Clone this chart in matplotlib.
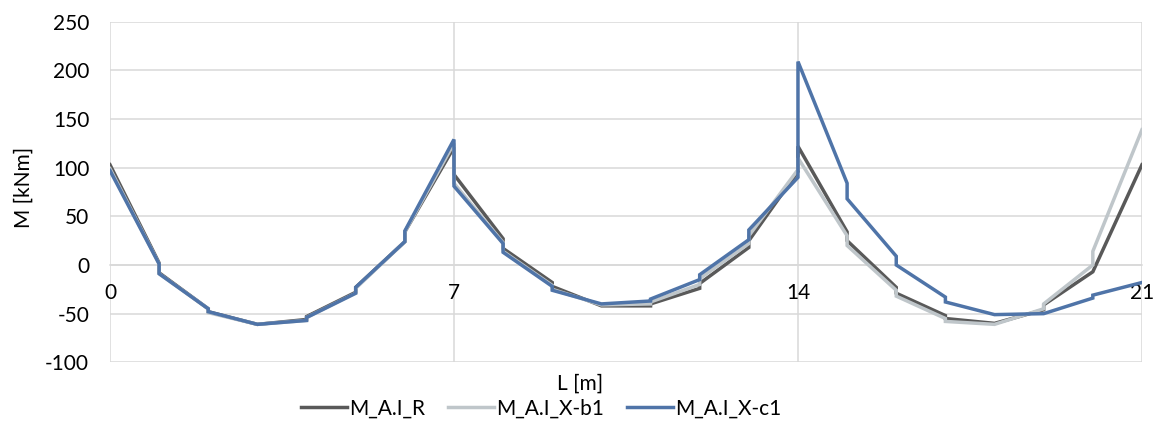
import matplotlib
matplotlib.use("Agg")
import matplotlib.pyplot as plt

plt.rcParams['font.family'] = ['Lato', 'DejaVu Sans']
plt.rcParams['font.size'] = 15
plt.rcParams['axes.unicode_minus'] = False

# Abscisas: en cada apoyo/carga puntual hay dos valores (salto del momento)
L = [0,
     1, 1, 2, 2, 3, 3, 4, 4, 5, 5, 6, 6, 7, 7,
     8, 8, 9, 9, 10, 10, 11, 11, 12, 12, 13, 13, 14, 14,
     15, 15, 16, 16, 17, 17, 18, 18, 19, 19, 20, 20,
     21]

M_R = [103,
       2, -8, -45, -48, -61, -61, -56, -53, -28, -23, 24, 34, 121, 93,
       27, 17, -18, -22, -42, -42, -42, -40, -24, -19, 18, 25, 96, 122,
       34, 25, -23, -29, -52, -55, -60, -60, -46, -41, -7, -7,
       103]

M_b1 = [99,
        1, -9, -45, -49, -61, -61, -57, -54, -29, -24, 24, 34, 125, 84,
        23, 14, -21, -25, -41, -41, -40, -38, -20, -14, 22, 30, 98, 110,
        30, 20, -26, -32, -55, -58, -61, -61, -45, -40, 0, 14,
        139]

M_c1 = [97,
        1, -9, -45, -48, -61, -61, -57, -54, -29, -23, 24, 35, 129, 81,
        22, 13, -22, -26, -40, -40, -37, -35, -15, -10, 26, 36, 90, 209,
        84, 68, 9, 0, -33, -38, -51, -51, -50, -50, -34, -31,
        -18]

series = [("M_A.I_R", M_R, "#595959"),
          ("M_A.I_X-b1", M_b1, "#BFC6CA"),
          ("M_A.I_X-c1", M_c1, "#4F74A8")]

fig = plt.figure(figsize=(11.59, 4.23), dpi=100)
ax = fig.add_axes([0.0949, 0.1435, 0.8904, 0.8052])

for nombre, valores, color in series:
    ax.plot(L, valores, color=color, lw=2.5, label=nombre, solid_joinstyle='miter')

ax.set_xlim(0, 21)
ax.set_ylim(-100, 250)
ax.set_xticks([0, 7, 14, 21])
ax.set_yticks(range(-100, 251, 50))
ax.grid(True, color="#D9D9D9", lw=1.1)
ax.set_axisbelow(True)

for s in ["top", "right", "left"]:
    ax.spines[s].set_visible(False)
# Eje horizontal en M = 0
ax.spines["bottom"].set_position(("data", 0))
ax.spines["bottom"].set_color("#D9D9D9")
ax.spines["bottom"].set_linewidth(1.1)
ax.spines["bottom"].set_zorder(0)

ax.tick_params(axis="both", length=0, colors="black")
ax.tick_params(axis="x", pad=13)
ax.tick_params(axis="y", pad=15)

fig.text(0.02, 0.556, "M [kNm]", rotation=90, ha="center", va="center")
fig.text(0.5004, 0.092, "L [m]", ha="center", va="center")

fig.legend(loc="center", bbox_to_anchor=(0.467, 0.035), ncol=3, frameon=False,
           handlelength=2.2, handletextpad=0.1, columnspacing=1.1,
           borderaxespad=0, borderpad=0)

fig.savefig("out.png", dpi=100)
